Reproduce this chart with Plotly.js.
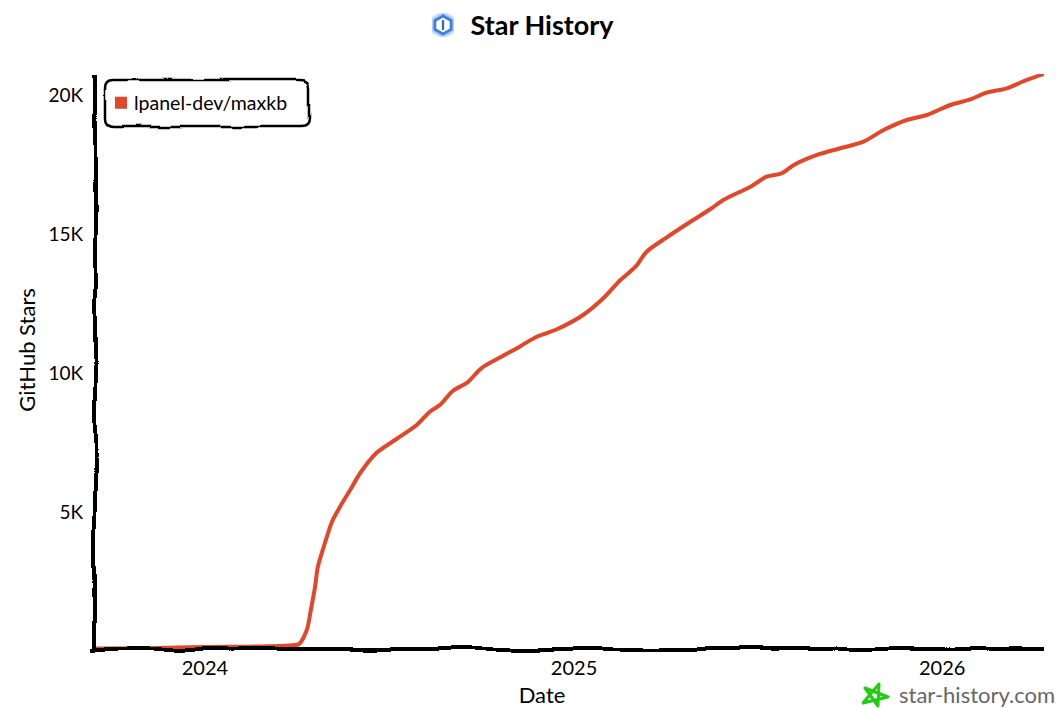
<!DOCTYPE html>
<html>
<head>
<meta charset="utf-8">
<script src="https://cdn.plot.ly/plotly-3.0.1.min.js"></script>
<style>
html,body{margin:0;padding:0;background:#fff;}
#chart{width:1058px;height:708px;}
</style>
</head>
<body>
<svg width="0" height="0" style="position:absolute">
  <filter id="wobble" filterUnits="userSpaceOnUse" x="0" y="0" width="1058" height="708">
    <feTurbulence type="fractalNoise" baseFrequency="0.018" numOctaves="2" seed="4"/>
    <feDisplacementMap in="SourceGraphic" scale="7" xChannelSelector="R" yChannelSelector="G"/>
  </filter>
</svg>
<div id="chart"></div>
<script>
var seriesName = 'lpanel-dev/maxkb';
var dates = ['2023-09-14','2023-11-07','2024-01-01','2024-02-25','2024-03-25','2024-04-03','2024-04-11','2024-04-15','2024-04-19','2024-04-22','2024-04-29','2024-05-06','2024-05-14','2024-05-24','2024-06-03','2024-06-19','2024-07-09','2024-07-29','2024-08-11','2024-08-21','2024-09-03','2024-09-17','2024-10-01','2024-10-20','2024-11-08','2024-11-25','2024-12-15','2025-01-10','2025-01-30','2025-02-16','2025-03-03','2025-03-14','2025-04-03','2025-04-23','2025-05-16','2025-05-29','2025-06-25','2025-07-11','2025-07-26','2025-08-07','2025-08-30','2025-09-22','2025-10-15','2025-11-04','2025-11-27','2025-12-17','2026-01-09','2026-01-29','2026-02-14','2026-03-06','2026-03-26','2026-04-12'];
var stars = [20,30,70,90,130,170,683,1403,2194,2960,3813,4579,5119,5719,6331,7050,7554,8058,8537,8777,9291,9579,10097,10493,10874,11234,11500,12014,12615,13273,13752,14291,14809,15288,15817,16151,16629,16989,17112,17410,17770,18011,18248,18669,19029,19209,19568,19773,20011,20169,20468,20683];
var yTickVals = [5000,10000,15000,20000];
var yTickText = ['5K','10K','15K','20K'];
var xTickVals = ['2024-01-01','2025-01-01','2026-01-01'];
var xTickText = ['2024','2025','2026'];
var xRange = ['2023-09-14','2026-04-12'];
var yRange = [0,20683];

var FONT = 'Lato, "Open Sans", sans-serif';
var L = 95, R = 1044, T = 74, B = 649;
function px(x){return (x-L)/(R-L);}
function py(y){return (B-y)/(B-T);}
function svgUri(s){return 'data:image/svg+xml;charset=utf-8,'+encodeURIComponent(s);}

var hexIcon = svgUri('<svg xmlns="http://www.w3.org/2000/svg" width="28" height="28" viewBox="0 0 28 28"><defs><filter id="g"><feGaussianBlur stdDeviation="1.6"/></filter></defs><polygon points="14,4 23,9 23,19 14,24 5,19 5,9" fill="none" stroke="#8fb8ff" stroke-width="5" filter="url(#g)"/><polygon points="14,5 22,9.5 22,18.5 14,23 6,18.5 6,9.5" fill="#fff" stroke="#3f7fd0" stroke-width="2.6"/><path d="M14 10 V18" stroke="#2f6fb8" stroke-width="2.4" stroke-linecap="round"/></svg>');
var starIcon = svgUri('<svg xmlns="http://www.w3.org/2000/svg" width="28" height="28" viewBox="0 0 28 28"><path d="M17 2 L16 24 L3 6 L26 15 L1 21 Z" fill="none" stroke="#22cc11" stroke-width="3" stroke-linejoin="round"/></svg>');

var traces = [
  {type:'scatter', mode:'lines', x:dates, y:stars, name:seriesName, showlegend:false,
   line:{color:'#E2472A', width:4, shape:'spline', smoothing:0.8}, hoverinfo:'x+y'},
  {type:'scatter', mode:'markers', x:[null], y:[null], name:seriesName, showlegend:true,
   marker:{symbol:'square', color:'#E2472A', size:12}}
];

var layout = {
  width:1058, height:708, autosize:false,
  paper_bgcolor:'#fff', plot_bgcolor:'#fff',
  margin:{l:L, r:1058-R, t:T, b:708-B, pad:0},
  font:{family:FONT, color:'#000', size:18},
  title:{text:'<b>Star History</b>', font:{family:FONT, size:27, color:'#000'},
         x:542/1058, xref:'container', xanchor:'center', y:1-26/708, yref:'container', yanchor:'middle'},
  xaxis:{type:'date', range:xRange, tickvals:xTickVals, ticktext:xTickText, showgrid:false, zeroline:false,
         showline:true, linecolor:'#000', linewidth:4, ticks:'', ticklabelstandoff:-2,
         tickfont:{family:FONT, size:20, color:'#000'},
         title:{text:'Date', font:{family:FONT, size:22, color:'#000'}, standoff:10}},
  yaxis:{range:yRange, tickvals:yTickVals, ticktext:yTickText, showgrid:false, zeroline:false,
         showline:true, linecolor:'#000', linewidth:4, ticks:'', ticklabelstandoff:4,
         tickfont:{family:FONT, size:19, color:'#000'},
         title:{text:'GitHub Stars', font:{family:FONT, size:22, color:'#000'}, standoff:28}},
  legend:{x:px(101), y:py(103), xanchor:'left', yanchor:'middle', bgcolor:'rgba(0,0,0,0)', borderwidth:0,
          font:{family:FONT, size:19.5, color:'#000'}, itemclick:false, itemdoubleclick:false},
  shapes:[{type:'path', xref:'paper', yref:'paper', layer:'below',
    xsizemode:'pixel', ysizemode:'pixel', xanchor:px(105), yanchor:py(126),
    path:'M 8 0 L 196 0 Q 204 0 204 8 L 204 38 Q 204 46 196 46 L 8 46 Q 0 46 0 38 L 0 8 Q 0 0 8 0 Z',
    line:{color:'#000', width:2.5}, fillcolor:'#fff'}],
  annotations:[{xref:'paper', yref:'paper', x:px(1056), y:py(694), xanchor:'right', yanchor:'middle',
    text:'star-history.com', showarrow:false, borderpad:0, font:{family:FONT, size:22, color:'#666'}}],
  images:[
    {source:hexIcon, xref:'paper', yref:'paper', x:px(429), y:py(11), sizex:28/(R-L), sizey:28/(B-T), xanchor:'left', yanchor:'top', layer:'above'},
    {source:starIcon, xref:'paper', yref:'paper', x:px(862), y:py(682), sizex:28/(R-L), sizey:28/(B-T), xanchor:'left', yanchor:'top', layer:'above'}
  ]
};

Plotly.newPlot('chart', traces, layout, {displayModeBar:false, responsive:false}).then(function(gd){
  gd.querySelectorAll('.shapelayer path').forEach(function(el){ el.style.filter = 'url(#wobble)'; });
  var xl = gd.querySelector('.xlines-above'), yl = gd.querySelector('.ylines-above');
  if (xl) { xl.setAttribute('transform','translate(0,-2)'); xl.style.filter='url(#wobble)'; }
  if (yl) { yl.setAttribute('transform','translate(2,0)'); yl.style.filter='url(#wobble)'; }
  var xt = gd.querySelector('.xtitle');
  if (xt) { xt.setAttribute('x', 542); xt.setAttribute('y', 703); }
  var yt = gd.querySelector('.ytitle');
  if (yt) { yt.setAttribute('x', 28); yt.setAttribute('y', 350); yt.setAttribute('transform','rotate(-90,28,350)'); }
  gd.querySelectorAll('.legendtext').forEach(function(el){ el.setAttribute('x', Number(el.getAttribute('x'))-7); });
  gd.querySelectorAll('.ytick text').forEach(function(el){ el.setAttribute('y', Number(el.getAttribute('y'))+2); });
});
</script>
</body>
</html>
